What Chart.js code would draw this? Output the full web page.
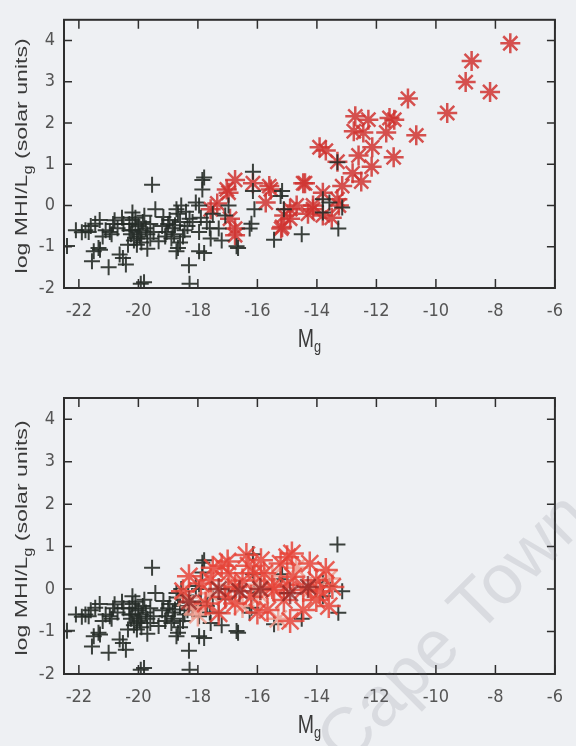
<!DOCTYPE html>
<html lang="en">
<head>
  <meta charset="UTF-8">
  <title>log MHI/Lg vs Mg</title>
  <script src="https://cdn.jsdelivr.net/npm/chart.js"></script>
  <style>
    body{margin:0;background:#eef0f3;width:576px;height:746px;overflow:hidden}
    .panel{width:576px;height:373px}
    canvas{display:block}
  </style>
</head>
<body>
  <div class="panel"><canvas id="topChart" width="576" height="373"></canvas></div>
  <div class="panel"><canvas id="botChart" width="576" height="373"></canvas></div>
<script>
// ---- data ----
const xTicks = [-22, -20, -18, -16, -14, -12, -10, -8, -6];
const yTicks = [-2, -1, 0, 1, 2, 3, 4];

// black crosses (same sample in both panels)
const blackX = [-22.4,-21.78,-21.67,-21.45,-21.3,-21.5,-21.29,-21.56,-21.34,-21.0,-20.96,-20.9,-20.63,-20.52,-20.42,-20.8,-20.2,-19.81,-19.92,-19.54,
  -19.43,-19.49,-19.16,-19.05,-19.32,-18.72,-18.56,-18.67,-18.77,-18.89,-18.28,-18.3,-18.28,-18.07,-17.85,-17.85,-17.96,-17.96,-17.79,-17.96,
  -18.18,-17.79,-17.57,-17.3,-17.08,-16.97,-16.7,-16.2,-16.15,-16.15,-16.1,-16.26,-15.44,-15.17,-15.11,-14.51,-13.8,-13.28,-13.15,-13.58,
  -15.22,-13.31,-13.8,-18.72,-18.67,-16.65,-20.3,-20.2,-20.1,-20.0,-19.95,-20.15,-20.25,-19.85,-19.9,-20.05,-19.75,-20.35,-19.8,-20.0,
  -20.1,-19.2,-18.95,-18.85,-18.6,-18.45,-19.0,-18.5,-18.4,-19.6,-19.7,-21.1,-20.7,-20.5,-21.9,-22.1,-20.55,-17.7,-17.5,-17.2,
  -20.2,-20.05,-19.9,-20.3,-19.7,-19.6,-18.8,-18.6,-19.1,-18.35,-17.9,-21.6,-21.2,-20.85,-17.6];
const blackY = [-0.98,-0.6,-0.64,-0.44,-0.35,-1.11,-1.07,-1.35,-1.03,-1.5,-0.64,-0.7,-1.19,-1.27,-1.43,-0.36,-0.17,-1.86,-1.9,0.5,
  -0.09,-0.64,-0.28,-0.64,-0.87,-1.11,0.0,-0.2,-0.48,-0.8,-0.32,-1.45,-1.9,0.07,0.62,0.39,-0.64,-1.11,0.68,0.0,
  -0.4,-1.15,-0.8,-0.56,-0.24,0.0,-0.99,-0.44,0.82,0.35,-0.09,-0.56,-0.83,0.35,-0.09,-0.7,-0.17,-0.56,-0.05,0.07,
  0.23,1.05,0.15,-0.09,-1.03,-1.03,-0.45,-0.6,-0.3,-0.5,-0.75,-0.85,-0.7,-0.4,-0.6,-0.95,-0.55,-0.95,-0.25,-0.65,
  -0.45,-0.5,-0.35,-0.55,-0.4,-0.6,-0.45,-0.75,-0.15,-0.8,-1.05,-0.6,-0.55,-0.45,-0.65,-0.6,-0.3,-0.4,-0.2,-0.85,
  -0.35,-0.8,-0.9,-0.6,-0.7,-0.45,-0.7,-0.9,-0.75,-0.5,-0.3,-0.5,-0.75,-0.45,-0.55];

// red stars, upper panel
const redTopX = [-7.5,-8.8,-9.0,-8.18,-9.62,-10.94,-10.66,-11.56,-11.4,-11.67,-11.42,-12.27,-12.71,-12.76,-12.44,-12.14,-12.6,-12.16,-12.8,-12.51,
  -13.31,-13.7,-13.91,-14.4,-13.31,-13.8,-13.26,-13.8,-14.13,-14.9,-15.2,-14.9,-16.75,-17.03,-17.57,-16.92,-16.75,-16.15,-15.6,-15.72,
  -15.17,-14.46,-14.68,-14.13,-13.15,-15.55,-15.1,-16.97,-16.75,-17.35,-13.5,-14.3];
const redTopY = [3.93,3.5,2.99,2.75,2.24,2.59,1.7,2.12,2.08,1.77,1.17,2.08,2.16,1.8,1.77,1.41,1.21,0.94,0.78,0.58,
  1.06,1.33,1.41,0.54,0.15,0.31,0.0,-0.24,-0.09,-0.09,-0.56,-0.32,0.62,0.39,-0.09,-0.32,-0.72,0.54,0.47,0.07,
  -0.52,0.54,0.0,0.0,0.47,0.39,-0.24,0.31,-0.56,0.05,-0.3,-0.2];

// red / pink / dark red stars, lower panel
const redBotX = [-16.37,-14.84,-14.24,-16.97,-17.57,-17.9,-16.75,-16.75,-17.08,-15.77,-15.44,-15.66,-15.11,-14.79,-14.46,-14.02,-14.02,-13.7,-13.48,-14.46,
  -16.21,-16.1,-17.74,-17.3,-15.22,-15.88,-16.5,-13.9,-15.0,-17.2,-18.5,-18.3,-17.0,-16.0,-15.0,-13.6,-14.9,-16.3,-15.5,-17.5];
const redBotY = [0.8,0.84,0.6,0.37,0.21,0.13,0.05,-0.34,-0.18,0.37,-0.02,-0.49,-0.26,0.29,-0.02,0.21,-0.26,0.45,0.05,-0.49,
  -0.18,0.37,-0.34,-0.57,0.6,0.68,0.2,-0.05,0.1,0.55,-0.05,0.3,0.65,-0.55,0.75,-0.4,-0.75,0.55,0.05,0.5];
const pinkBotX = [-18.18,-18.4,-18.0,-17.6,-16.9,-16.0,-15.5,-14.7,-14.2,-16.5,-15.9,-13.6,-15.3];
const pinkBotY = [-0.42,-0.2,-0.6,-0.1,0.1,0.1,0.3,0.5,0.0,-0.4,-0.15,0.25,-0.7];
const darkBotX = [-14.3,-15.9,-17.3,-18.3,-14.9,-16.6];
const darkBotY = [0.05,0.0,0.0,-0.3,-0.1,-0.05];

const pts = (xs, ys) => xs.map((x, i) => ({x, y: ys[i]}));

// ---- frame, inward ticks, axis titles ----
const TEXT = '#3a3a3a';
const SANS = '"Liberation Sans", Arial, sans-serif';
function subText(ctx, parts, x, y, stretch){
  // one line of text with subscripts, centred on x, scaled horizontally
  ctx.save();
  ctx.translate(x, y);
  ctx.scale(stretch, 1);
  let w = 0;
  parts.forEach(p => { ctx.font = p.font; w += ctx.measureText(p.t).width; });
  let cx = -w / 2;
  parts.forEach(p => {
    ctx.font = p.font;
    ctx.fillText(p.t, cx, p.dy || 0);
    cx += ctx.measureText(p.t).width;
  });
  ctx.restore();
}

const framePlugin = {
  id: 'frame',
  afterDraw(chart, args, opts){
    const {ctx, chartArea: a, scales: {x, y}} = chart;
    ctx.save();
    ctx.strokeStyle = '#2e2e2e';
    ctx.lineWidth = 2;
    ctx.strokeRect(a.left, a.top, a.right - a.left, a.bottom - a.top);
    ctx.lineWidth = 1.5;
    ctx.beginPath();
    x.ticks.forEach(t => {
      const px = x.getPixelForValue(t.value);
      ctx.moveTo(px, a.bottom); ctx.lineTo(px, a.bottom - 9);
      ctx.moveTo(px, a.top); ctx.lineTo(px, a.top + 9);
    });
    y.ticks.forEach(t => {
      const py = y.getPixelForValue(t.value);
      ctx.moveTo(a.left, py); ctx.lineTo(a.left + 8, py);
      ctx.moveTo(a.right, py); ctx.lineTo(a.right - 8, py);
    });
    ctx.stroke();

    ctx.fillStyle = TEXT;
    ctx.textBaseline = 'alphabetic';
    subText(ctx, [
      {t: 'M', font: '26px ' + SANS},
      {t: 'g', font: '17px ' + SANS, dy: 5}
    ], (a.left + a.right) / 2, a.bottom + 59, 0.75);
    ctx.save();
    ctx.translate(27, (a.top + a.bottom) / 2 + 2);
    ctx.rotate(-Math.PI / 2);
    subText(ctx, [
      {t: 'log MHI/L', font: '17px ' + SANS},
      {t: 'g', font: '12px ' + SANS, dy: 5},
      {t: ' (solar units)', font: '17px ' + SANS}
    ], 0, 0, 1.36);
    ctx.restore();

    if (opts.watermark) {
      ctx.save();
      ctx.translate(opts.watermark.x, opts.watermark.y);
      ctx.rotate(-Math.PI / 4);
      ctx.font = '70px ' + SANS;
      ctx.fillStyle = 'rgba(110,115,125,0.16)';
      ctx.fillText(opts.watermark.text, 0, 0);
      ctx.restore();
    }
    ctx.restore();
  }
};

function makeChart(id, datasets, padTop, xHeight, watermark){
  const tickFont = {family: '"Liberation Sans Narrow", "DejaVu Sans Condensed", "Liberation Sans", sans-serif', size: 18};
  return new Chart(document.getElementById(id), {
    type: 'scatter',
    data: {datasets},
    options: {
      responsive: false,
      devicePixelRatio: 1,
      animation: false,
      layout: {padding: {top: padTop, right: 9, left: 0, bottom: 0}},
      plugins: {legend: {display: false}, tooltip: {enabled: false}, frame: {watermark}},
      scales: {
        x: {
          type: 'linear', min: -22.5, max: -6,
          grid: {display: false, drawTicks: false}, border: {display: false},
          afterBuildTicks: s => { s.ticks = xTicks.map(v => ({value: v})); },
          afterFit: s => { s.height = xHeight; },
          ticks: {font: tickFont, color: '#555', padding: 13, maxRotation: 0}
        },
        y: {
          type: 'linear', min: -2, max: 4.5,
          grid: {display: false, drawTicks: false}, border: {display: false},
          afterBuildTicks: s => { s.ticks = yTicks.map(v => ({value: v})); },
          afterFit: s => { s.width = 64; },
          ticks: {font: tickFont, color: '#555', padding: 9}
        }
      }
    },
    plugins: [framePlugin]
  });
}

const crossStyle = {pointStyle: 'cross', pointRadius: 8, borderWidth: 2,
  borderColor: 'rgba(38,44,40,0.9)', backgroundColor: 'rgba(0,0,0,0)'};
const starStyle = (c, r) => ({pointStyle: 'star', pointRadius: r, borderWidth: 2.5,
  borderColor: c, backgroundColor: c});

makeChart('topChart', [
  Object.assign({label: 'black', data: pts(blackX, blackY), order: 1}, crossStyle),
  Object.assign({label: 'red', data: pts(redTopX, redTopY), order: 2}, starStyle('rgba(208,52,48,0.85)', 10))
], 13, 85, null);

makeChart('botChart', [
  Object.assign({label: 'dark', data: pts(darkBotX, darkBotY), order: 1}, starStyle('rgba(150,40,38,0.8)', 11)),
  Object.assign({label: 'red', data: pts(redBotX, redBotY), order: 2}, starStyle('rgba(230,68,56,0.85)', 12)),
  Object.assign({label: 'pink', data: pts(pinkBotX, pinkBotY), order: 3}, starStyle('rgba(238,155,140,0.85)', 12)),
  Object.assign({label: 'black', data: pts(blackX, blackY), order: 4}, crossStyle)
], 25, 72, {text: 'Cape Town', x: 345, y: 395});
</script>
</body>
</html>
